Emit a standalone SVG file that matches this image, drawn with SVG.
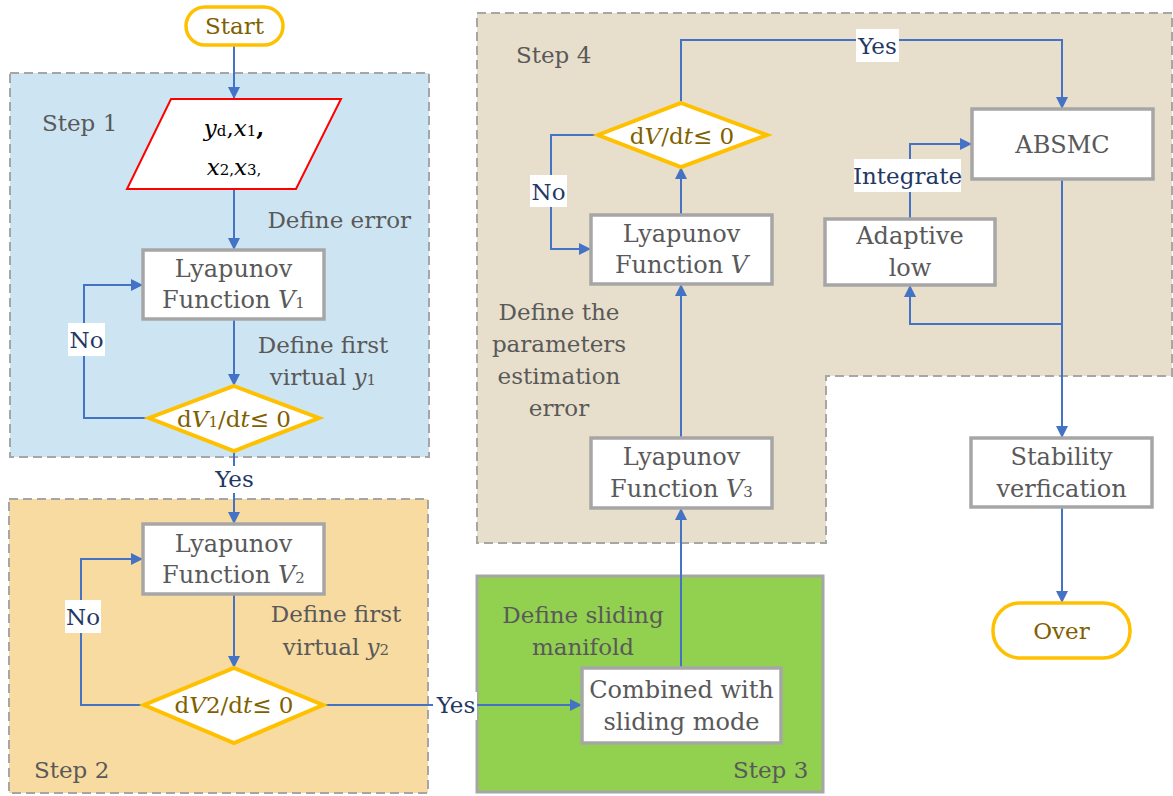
<svg xmlns="http://www.w3.org/2000/svg" width="1173" height="796" viewBox="0 0 1173 796">
<defs>
<marker id="arr" viewBox="0 0 10 10" refX="10" refY="5" markerWidth="12" markerHeight="12" markerUnits="userSpaceOnUse" orient="auto"><path d="M0,0 L10,5 L0,10 z" fill="#4472C4"/></marker>
<style>
text{font-family:"DejaVu Serif","Liberation Serif",serif;font-size:23px;}
.g{fill:#595959;}
.b{font-size:24px;}
.lbl{fill:#1F3864;text-anchor:middle;}
.dec{fill:#7F6000;text-anchor:middle;}
.mid{text-anchor:middle;}
.box{fill:#fff;stroke:#A6A6A6;stroke-width:3.5;}
.dia{fill:#fff;stroke:#FFC000;stroke-width:4;}
.term{fill:#fff;stroke:#FFC000;stroke-width:3.5;}
.region{stroke:#A6A6A6;stroke-width:2;stroke-dasharray:9 5;}
.con{fill:none;stroke:#4472C4;stroke-width:2;marker-end:url(#arr);}
.wb{fill:#fff;}
.i{font-style:italic;}
.s{font-size:15px;}
</style>
</defs>
<g id="regions">
<rect id="step1" class="region" x="10" y="73" width="419" height="384" fill="#CDE5F2"/>
<rect id="step2" class="region" x="9" y="499" width="419" height="294" fill="#F8DBA0"/>
<path id="step4" class="region" d="M477,13 H1172 V376 H826 V543 H477 Z" fill="#E7DFCB"/>
<rect id="step3" x="477" y="576" width="346" height="216" fill="#92D050" stroke="#A6A6A6" stroke-width="3"/>
<text class="g" x="42" y="131">Step 1</text>
<text class="g" x="34" y="778">Step 2</text>
<text class="g" x="733" y="778">Step 3</text>
<text class="g" x="516" y="63">Step 4</text>
<text class="g" x="411" y="228" text-anchor="end">Define error</text>
<text class="g mid" x="323" y="353">Define first</text>
<text class="g mid" x="323" y="385">virtual <tspan class="i">y</tspan><tspan class="s">1</tspan></text>
<text class="g mid" x="336" y="622">Define first</text>
<text class="g mid" x="336" y="655">virtual <tspan class="i">y</tspan><tspan class="s">2</tspan></text>
<text class="g mid" x="559" y="320">Define the</text>
<text class="g mid" x="559" y="352">parameters</text>
<text class="g mid" x="559" y="384">estimation</text>
<text class="g mid" x="559" y="416">error</text>
<text class="g mid" x="583" y="623">Define sliding</text>
<text class="g mid" x="583" y="655">manifold</text>
</g>
<g id="connectors">
<path class="con" d="M234,45 V99"/>
<path class="con" d="M234,189 V250"/>
<path class="con" d="M234,319 V386"/>
<path class="con" d="M149,418 H84 V285 H143"/>
<path class="con" d="M234,451 V524"/>
<path class="con" d="M234,594 V668"/>
<path class="con" d="M144,705 H81 V559 H143"/>
<path class="con" d="M323,705 H582"/>
<path class="con" d="M681,668 V508"/>
<path class="con" d="M681,438 V284"/>
<path class="con" d="M681,215 V167"/>
<path class="con" d="M598,135 H551 V249 H591"/>
<path class="con" d="M681,103 V40 H1062 V109"/>
<path class="con" d="M910,219 V144 H972"/>
<path class="con" d="M1062,179 V438"/>
<path class="con" d="M1062,324 H910 V285"/>
<path class="con" d="M1062,507 V603"/>
<rect class="wb" x="68" y="323" width="37" height="33"/>
<text class="lbl" x="86.5" y="348">No</text>
<rect class="wb" x="214" y="466" width="41" height="27"/>
<text class="lbl" x="234.5" y="487">Yes</text>
<rect class="wb" x="65" y="600" width="36" height="33"/>
<text class="lbl" x="83" y="625">No</text>
<rect class="wb" x="433" y="692" width="44" height="28"/>
<text class="lbl" x="456" y="713">Yes</text>
<rect class="wb" x="530" y="175" width="37" height="32"/>
<text class="lbl" x="548.5" y="200">No</text>
<rect class="wb" x="856" y="29" width="43" height="33"/>
<text class="lbl" x="877.5" y="54">Yes</text>
<rect class="wb" x="854" y="159" width="107" height="33"/>
<text class="lbl" x="907.5" y="184">Integrate</text>
</g>
<g id="start"><rect class="term" x="186" y="7" width="97" height="38" rx="19"/><text class="dec" x="234.5" y="34">Start</text></g>
<g id="input"><polygon points="171,99 341,99 296,189 127,189" fill="#fff" stroke="#FF0000" stroke-width="2"/>
<text class="mid" x="234" y="136" fill="#000" font-size="27"><tspan class="i">y</tspan><tspan class="s">d</tspan>,<tspan class="i">x</tspan><tspan class="s">1</tspan><tspan font-weight="bold">,</tspan></text>
<text class="mid" x="234" y="175" fill="#000" font-size="27"><tspan class="i">x</tspan><tspan class="s">2,</tspan><tspan class="i">x</tspan><tspan class="s">3,</tspan></text></g>
<g id="lyap1"><rect class="box" x="143" y="250" width="181" height="69"/><text class="g b mid" x="233.5" y="277">Lyapunov</text><text class="g b mid" x="233.5" y="308">Function <tspan class="i">V</tspan><tspan class="s">1</tspan></text></g>
<g id="dec1"><polygon class="dia" points="234,386 319,418 234,451 149,418"/><text class="dec" x="234" y="427">d<tspan class="i">V</tspan><tspan class="s">1</tspan>/d<tspan class="i">t</tspan>≤ 0</text></g>
<g id="lyap2"><rect class="box" x="143" y="524" width="181" height="70"/><text class="g b mid" x="233.5" y="552">Lyapunov</text><text class="g b mid" x="233.5" y="583">Function <tspan class="i">V</tspan><tspan class="s">2</tspan></text></g>
<g id="dec2"><polygon class="dia" points="234,668 323,705 234,743 144,705"/><text class="dec" x="234" y="713">d<tspan class="i">V</tspan>2/d<tspan class="i">t</tspan>≤ 0</text></g>
<g id="combined"><rect class="box" x="582" y="668" width="199" height="75"/><text class="g b mid" x="681.5" y="698">Combined with</text><text class="g b mid" x="681.5" y="730">sliding mode</text></g>
<g id="lyap3"><rect class="box" x="591" y="438" width="181" height="70"/><text class="g b mid" x="681.5" y="465">Lyapunov</text><text class="g b mid" x="681.5" y="497">Function <tspan class="i">V</tspan><tspan class="s">3</tspan></text></g>
<g id="lyapV"><rect class="box" x="591" y="215" width="181" height="69"/><text class="g b mid" x="681.5" y="242">Lyapunov</text><text class="g b mid" x="681.5" y="273">Function <tspan class="i">V</tspan></text></g>
<g id="dec3"><polygon class="dia" points="681,103 767,135 681,167 598,135"/><text class="dec" x="682" y="144">d<tspan class="i">V</tspan>/d<tspan class="i">t</tspan>≤ 0</text></g>
<g id="absmc"><rect class="box" x="972" y="109" width="181" height="70"/><text class="g b mid" x="1062.5" y="153">ABSMC</text></g>
<g id="adaptive"><rect class="box" x="825" y="219" width="170" height="66"/><text class="g b mid" x="910" y="244">Adaptive</text><text class="g b mid" x="910" y="276">low</text></g>
<g id="stability"><rect class="box" x="971" y="438" width="181" height="69"/><text class="g b mid" x="1061.5" y="465">Stability</text><text class="g b mid" x="1061.5" y="497">verfication</text></g>
<g id="over"><rect class="term" x="993" y="603" width="137" height="55" rx="27"/><text class="dec" x="1061.5" y="639">Over</text></g>
</svg>
